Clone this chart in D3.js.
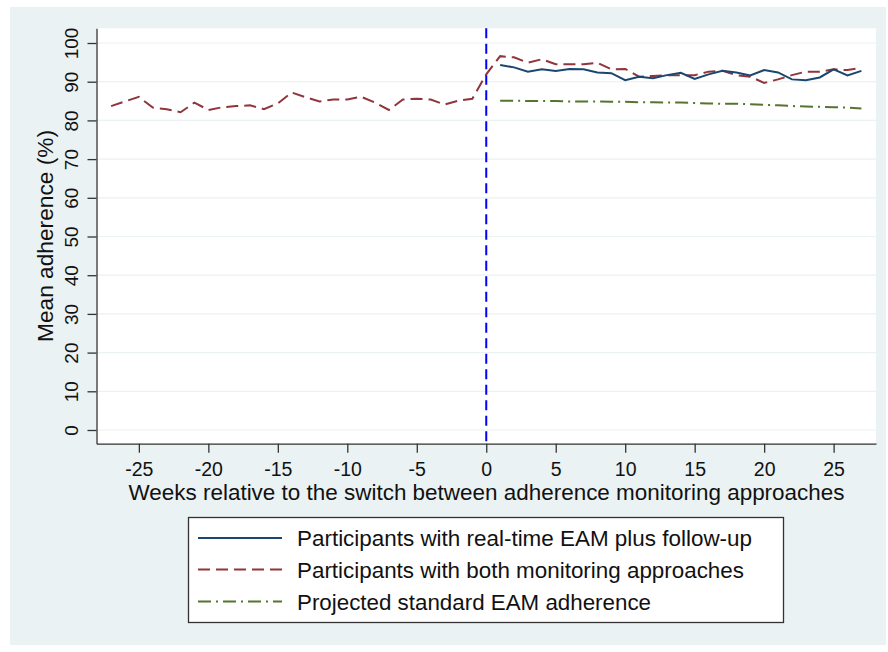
<!DOCTYPE html>
<html>
<head>
<meta charset="utf-8">
<script src="https://cdn.jsdelivr.net/npm/d3@7"></script>
<style>
  html, body { margin: 0; padding: 0; background: #ffffff; }
  svg { display: block; }
  text { font-family: "Liberation Sans", Arial, Helvetica, sans-serif; fill: #111; }
</style>
</head>
<body>
<svg id="chart" width="888" height="652"></svg>
<script>
// ---------------- data ----------------
const weeksAll = [-27,-26,-25,-24,-23,-22,-21,-20,-19,-18,-17,-16,-15,-14,-13,-12,-11,-10,-9,-8,-7,-6,-5,-4,-3,-2,-1,
                  0,1,2,3,4,5,6,7,8,9,10,11,12,13,14,15,16,17,18,19,20,21,22,23,24,25,26,27];
const bothValues = [83.7,84.9,86.1,83.3,82.9,82.1,84.6,82.7,83.4,83.7,83.9,82.9,84.4,87.2,86.0,84.9,85.4,85.4,86.1,84.6,82.7,85.4,85.6,85.4,84.1,85.1,85.6,
                    91.9,96.6,96.3,94.9,95.8,94.5,94.5,94.5,94.9,93.2,93.3,91.3,91.5,91.7,91.7,91.7,92.6,92.8,91.7,91.3,89.7,90.6,91.7,92.6,92.6,93.2,93.0,93.6];
const weeksPost = [1,2,3,4,5,6,7,8,9,10,11,12,13,14,15,16,17,18,19,20,21,22,23,24,25,26,27];
const realtimeValues = [94.3,93.7,92.6,93.2,92.8,93.3,93.2,92.4,92.2,90.4,91.3,90.9,91.7,92.3,90.7,91.9,92.8,92.4,91.6,93.0,92.4,90.6,90.4,91.1,93.2,91.6,92.8];
const projectedValues = [85.1,85.1,85.0,85.0,85.0,84.9,84.9,84.9,84.8,84.8,84.7,84.7,84.6,84.6,84.5,84.4,84.3,84.3,84.2,84.0,83.9,83.7,83.6,83.5,83.4,83.3,83.1];
const xTicks = [-25,-20,-15,-10,-5,0,5,10,15,20,25];
const xTickLabels = ["-25","-20","-15","-10","-5","0","5","10","15","20","25"];
const yTicks = [0,10,20,30,40,50,60,70,80,90,100];
const yTickLabels = ["0","10","20","30","40","50","60","70","80","90","100"];
const seriesNames = ["Participants with real-time EAM plus follow-up",
                     "Participants with both monitoring approaches",
                     "Projected standard EAM adherence"];
const xTitle = "Weeks relative to the switch between adherence monitoring approaches";
const yTitle = "Mean adherence (%)";

// ---------------- layout ----------------
const svg = d3.select("#chart");
const plot = { left: 96.5, right: 876, top: 28.3, bottom: 443.7 };
const colors = { realtime: "#1a476f", both: "#90353b", projected: "#55752f", bg: "#eaf2f3", grid: "#eaf2f3" };

svg.append("rect").attr("x", 10).attr("y", 7).attr("width", 876).attr("height", 638).attr("fill", colors.bg);
svg.append("rect").attr("x", plot.left).attr("y", plot.top)
   .attr("width", plot.right - plot.left).attr("height", plot.bottom - plot.top).attr("fill", "#ffffff");

const x = d3.scaleLinear().domain([-28.05, 28.05]).range([plot.left, plot.right]);
const y = d3.scaleLinear().domain([-3.54, 103.8]).range([plot.bottom, plot.top]);

// gridlines
svg.append("g").selectAll("line").data(yTicks).join("line")
  .attr("x1", plot.left).attr("x2", plot.right)
  .attr("y1", d => y(d)).attr("y2", d => y(d))
  .attr("stroke", colors.grid).attr("stroke-width", 1.2);

// vertical reference line at 0
svg.append("line")
  .attr("x1", x(0)).attr("x2", x(0)).attr("y1", plot.top).attr("y2", plot.bottom)
  .attr("stroke", "#0000ff").attr("stroke-width", 2).attr("stroke-dasharray", "10,5.5");

// series
const line = d3.line().x(d => x(d[0])).y(d => y(d[1]));
svg.append("path").datum(weeksAll.map((w, i) => [w, bothValues[i]]))
  .attr("d", line).attr("fill", "none").attr("stroke", colors.both)
  .attr("stroke-width", 2).attr("stroke-dasharray", "12,6");
svg.append("path").datum(weeksPost.map((w, i) => [w, realtimeValues[i]]))
  .attr("d", line).attr("fill", "none").attr("stroke", colors.realtime)
  .attr("stroke-width", 2);
svg.append("path").datum(weeksPost.map((w, i) => [w, projectedValues[i]]))
  .attr("d", line).attr("fill", "none").attr("stroke", colors.projected)
  .attr("stroke-width", 2).attr("stroke-dasharray", "13,5,2,5");

// axes
const xAxis = d3.axisBottom(x).tickValues(xTicks)
  .tickFormat((d, i) => xTickLabels[i]).tickSize(9).tickSizeOuter(0).tickPadding(4);
const gx = svg.append("g").attr("transform", `translate(0,${plot.bottom})`).call(xAxis);
gx.select(".domain").attr("stroke", "#333").attr("stroke-width", 1.3);
gx.selectAll(".tick line").attr("stroke", "#333").attr("stroke-width", 1.3);
gx.selectAll(".tick text").attr("font-size", 19.5).attr("y", null).attr("dy", null)
  .attr("transform", "translate(0,32)").style("font-family", "'Liberation Sans', Arial, sans-serif").attr("fill", "#111");

const yAxis = d3.axisLeft(y).tickValues(yTicks)
  .tickFormat((d, i) => yTickLabels[i]).tickSize(9).tickSizeOuter(0);
const gy = svg.append("g").attr("transform", `translate(${plot.left},0)`).call(yAxis);
gy.select(".domain").attr("stroke", "#333").attr("stroke-width", 1.3);
gy.selectAll(".tick line").attr("stroke", "#333").attr("stroke-width", 1.3);
gy.selectAll(".tick text").attr("font-size", 19).attr("x", null).attr("dy", null)
  .attr("text-anchor", "middle").attr("transform", "translate(-18.5,0) rotate(-90)")
  .style("font-family", "'Liberation Sans', Arial, sans-serif").attr("fill", "#111");

// axis titles
svg.append("text").attr("x", 486.5).attr("y", 500)
  .attr("text-anchor", "middle").attr("font-size", 22.5)
  .attr("textLength", 716).attr("lengthAdjust", "spacingAndGlyphs").text(xTitle);
svg.append("text").attr("transform", `translate(53,236) rotate(-90)`)
  .attr("text-anchor", "middle").attr("font-size", 22.5)
  .attr("textLength", 212).attr("lengthAdjust", "spacingAndGlyphs").text(yTitle);

// legend
const legend = svg.append("g");
legend.append("rect").attr("x", 188.5).attr("y", 517.5).attr("width", 595).attr("height", 105)
  .attr("fill", "#ffffff").attr("stroke", "#333").attr("stroke-width", 1.3);
const legendItems = [
  { name: seriesNames[0], color: colors.realtime, dash: null, len: 455 },
  { name: seriesNames[1], color: colors.both, dash: "12,6", len: 447 },
  { name: seriesNames[2], color: colors.projected, dash: "13,5,2,5", len: 354 }
];
const rowY = [538, 569.5, 601.5];
legendItems.forEach((it, i) => {
  legend.append("line").attr("x1", 198).attr("x2", 282).attr("y1", rowY[i]).attr("y2", rowY[i])
    .attr("stroke", it.color).attr("stroke-width", 2).attr("stroke-dasharray", it.dash);
  legend.append("text").attr("x", 297).attr("y", rowY[i] + 8).attr("font-size", 22.5)
    .attr("textLength", it.len).attr("lengthAdjust", "spacingAndGlyphs").text(it.name);
});
</script>
</body>
</html>
